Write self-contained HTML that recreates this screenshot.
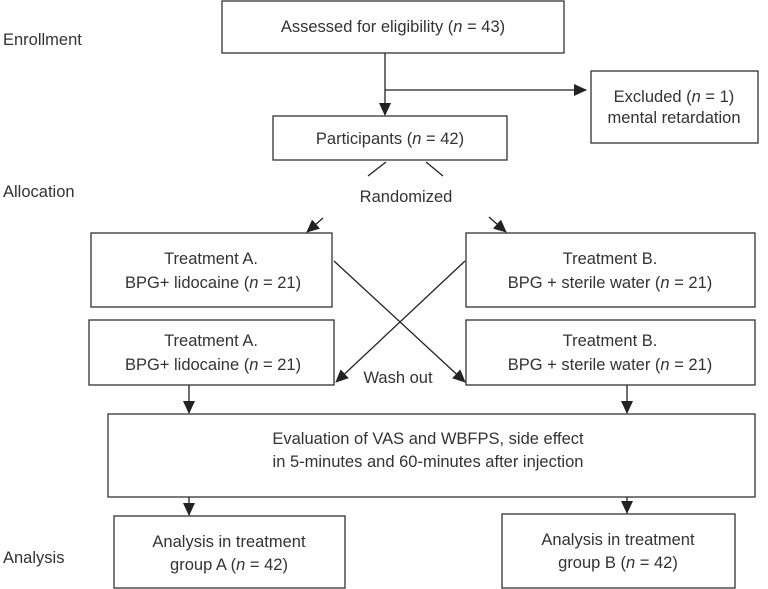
<!DOCTYPE html>
<html><head><meta charset="utf-8"><style>
html,body{margin:0;padding:0;background:#fff}
svg{display:block}
text{font-family:"Liberation Sans",sans-serif;font-size:16.5px;fill:#333}
</style></head><body>
<svg width="768" height="589" viewBox="0 0 768 589" xmlns="http://www.w3.org/2000/svg">
<defs><marker id="a" markerWidth="13" markerHeight="12" refX="12" refY="6" orient="auto" markerUnits="userSpaceOnUse"><path d="M0,0 L13,6 L0,12 z" fill="#222"/></marker></defs>
<g fill="none" stroke="#333" stroke-width="1.3">
<rect x="222" y="1" width="342" height="52"/>
<rect x="591" y="71" width="167" height="72"/>
<rect x="273" y="116" width="234" height="44"/>
<rect x="91" y="233" width="241" height="74"/>
<rect x="466" y="233" width="289" height="74"/>
<rect x="89" y="320" width="245" height="65"/>
<rect x="466" y="320" width="289" height="65"/>
<rect x="108" y="414" width="647" height="83"/>
<rect x="114" y="516" width="231" height="72"/>
<rect x="502" y="514" width="233" height="74"/>
</g>
<g stroke="#222" stroke-width="1.3" fill="none">
<line x1="385" y1="53" x2="385" y2="115" marker-end="url(#a)"/>
<line x1="385" y1="90" x2="586" y2="90" marker-end="url(#a)"/>
<line x1="386" y1="162" x2="368" y2="176"/>
<line x1="426" y1="162" x2="443" y2="176"/>
<line x1="323" y1="218" x2="307" y2="232" marker-end="url(#a)"/>
<line x1="489" y1="217" x2="506" y2="232" marker-end="url(#a)"/>
<line x1="334" y1="261" x2="465" y2="382" marker-end="url(#a)"/>
<line x1="465" y1="261" x2="336" y2="382" marker-end="url(#a)"/>
<line x1="189" y1="385" x2="189" y2="413" marker-end="url(#a)"/>
<line x1="627" y1="385" x2="627" y2="413" marker-end="url(#a)"/>
<line x1="189" y1="497" x2="189" y2="515" marker-end="url(#a)"/>
<line x1="627" y1="497" x2="627" y2="513" marker-end="url(#a)"/>
</g>
<text x="3" y="45">Enrollment</text>
<text x="3" y="197">Allocation</text>
<text x="3" y="563">Analysis</text>
<g text-anchor="middle">
<text x="393" y="32">Assessed for eligibility (<tspan font-style="italic">n</tspan> = 43)</text>
<text x="674" y="102">Excluded (<tspan font-style="italic">n</tspan> = 1)</text>
<text x="674" y="123">mental retardation</text>
<text x="390" y="144">Participants (<tspan font-style="italic">n</tspan> = 42)</text>
<text x="406" y="202">Randomized</text>
<text x="211" y="264">Treatment A.</text>
<text x="213" y="288">BPG+ lidocaine (<tspan font-style="italic">n</tspan> = 21)</text>
<text x="610" y="264">Treatment B.</text>
<text x="610" y="288">BPG + sterile water (<tspan font-style="italic">n</tspan> = 21)</text>
<text x="211" y="346">Treatment A.</text>
<text x="213" y="370">BPG+ lidocaine (<tspan font-style="italic">n</tspan> = 21)</text>
<text x="610" y="346">Treatment B.</text>
<text x="610" y="370">BPG + sterile water (<tspan font-style="italic">n</tspan> = 21)</text>
<text x="398" y="383">Wash out</text>
<text x="428" y="444">Evaluation of VAS and WBFPS, side effect</text>
<text x="428" y="467">in 5-minutes and 60-minutes after injection</text>
<text x="229" y="547">Analysis in treatment</text>
<text x="229" y="570">group A (<tspan font-style="italic">n</tspan> = 42)</text>
<text x="618" y="545">Analysis in treatment</text>
<text x="618" y="568">group B (<tspan font-style="italic">n</tspan> = 42)</text>
</g>
</svg>
</body></html>
